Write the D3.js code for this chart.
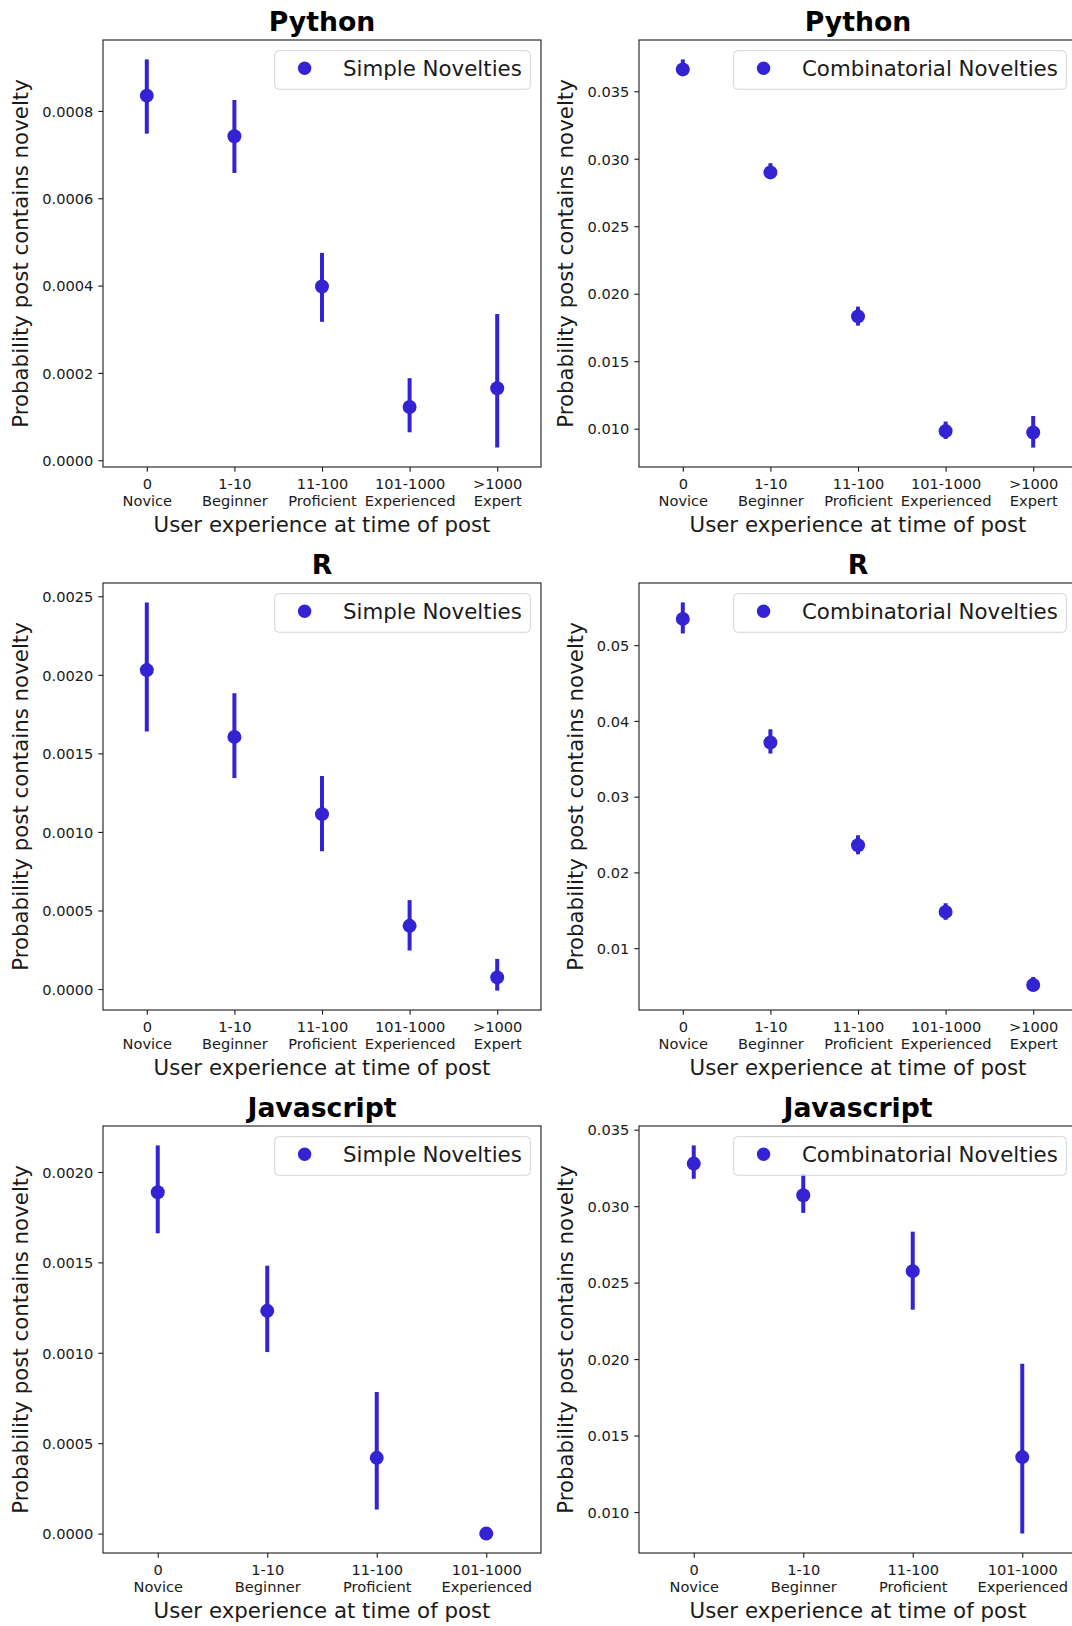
<!DOCTYPE html>
<html>
<head>
<meta charset="utf-8">
<script src="https://cdn.jsdelivr.net/npm/d3@7"></script>
<style>
  body { margin: 0; background: #fff; }
  svg { display: block; font-family: "DejaVu Sans", sans-serif; }
</style>
</head>
<body>
<svg id="chart" width="1072" height="1626"></svg>
<script>
// experience bins, two-line tick labels
const binRanges = ["0", "1-10", "11-100", "101-1000", ">1000"];
const binNames = ["Novice", "Beginner", "Proficient", "Experienced", "Expert"];

const languages = ["Python", "R", "Javascript"];
const seriesNames = ["Simple Novelties", "Combinatorial Novelties"];

// point estimates + CI ends
const pySimpleMean = [0.000835, 0.000742, 0.000398, 0.000122, 0.000165];
const pySimpleLow  = [0.000748, 0.000658, 0.000317, 0.000064, 0.000029];
const pySimpleHigh = [0.000918, 0.000825, 0.000475, 0.000188, 0.000335];

const pyCombMean = [0.03662, 0.02899, 0.01832, 0.00982, 0.00972];
const pyCombLow  = [0.03616, 0.02853, 0.01764, 0.00924, 0.00860];
const pyCombHigh = [0.03736, 0.02967, 0.01904, 0.01053, 0.01094];

const rSimpleMean = [0.002030, 0.001605, 0.001113, 0.000402, 0.000074];
const rSimpleLow  = [0.001640, 0.001343, 0.000877, 0.000245, -0.000010];
const rSimpleHigh = [0.002461, 0.001883, 0.001356, 0.000566, 0.000192];

const rCombMean = [0.05346, 0.03715, 0.02358, 0.01479, 0.00514];
const rCombLow  = [0.05154, 0.03569, 0.02239, 0.01374, 0.00440];
const rCombHigh = [0.05564, 0.03889, 0.02490, 0.01593, 0.00620];

const jsSimpleMean = [0.001888, 0.001232, 0.000419, 0.0];
const jsSimpleLow  = [0.001661, 0.001004, 0.000133, 0.0];
const jsSimpleHigh = [0.002147, 0.001482, 0.000783, 0.0];

const jsCombMean = [0.03278, 0.03071, 0.02575, 0.01359];
const jsCombLow  = [0.03179, 0.02956, 0.02323, 0.00859];
const jsCombHigh = [0.03397, 0.03211, 0.02833, 0.01970];

const panels = [
  {title: languages[0], name: seriesNames[0], mean: pySimpleMean, lo: pySimpleLow, hi: pySimpleHigh},
  {title: languages[0], name: seriesNames[1], mean: pyCombMean, lo: pyCombLow, hi: pyCombHigh},
  {title: languages[1], name: seriesNames[0], mean: rSimpleMean, lo: rSimpleLow, hi: rSimpleHigh},
  {title: languages[1], name: seriesNames[1], mean: rCombMean, lo: rCombLow, hi: rCombHigh},
  {title: languages[2], name: seriesNames[0], mean: jsSimpleMean, lo: jsSimpleLow, hi: jsSimpleHigh},
  {title: languages[2], name: seriesNames[1], mean: jsCombMean, lo: jsCombLow, hi: jsCombHigh}
];

const W = 438, H = 427;
const colX = [103, 639];
const rowY = [40, 583, 1126];
const blue = "#3323d3";
const ink = "#1a1a1a";

const svg = d3.select("#chart");

panels.forEach((p, i) => {
  const g = svg.append("g")
      .attr("transform", `translate(${colX[i % 2]},${rowY[Math.floor(i / 2)]})`);
  const n = p.mean.length;

  const x = d3.scaleLinear().domain([-0.5, n - 0.5]).range([0, W]);
  const lo = d3.min(p.lo), hi = d3.max(p.hi), pad = (hi - lo) * 0.05;
  const y = d3.scaleLinear().domain([lo - pad, hi + pad]).range([H, 0]);
  const ticks = y.ticks(5);
  const fmt = d3.format("." + d3.precisionFixed(ticks[1] - ticks[0]) + "f");

  // y axis
  const yAxis = g.append("g")
      .call(d3.axisLeft(y).tickValues(ticks).tickFormat(fmt).tickSize(4.7).tickSizeOuter(0).tickPadding(5))
      .attr("font-size", 14.6)
      .attr("font-family", null);
  yAxis.select(".domain").remove();
  yAxis.selectAll(".tick line").attr("stroke", ink).attr("stroke-width", 1.1);
  yAxis.selectAll(".tick text").attr("fill", ink).attr("dy", "0.36em");

  // x axis with two-line labels
  const xAxis = g.append("g")
      .attr("transform", `translate(0,${H})`)
      .call(d3.axisBottom(x).tickValues(d3.range(n)).tickFormat("").tickSize(4.7).tickSizeOuter(0))
      .attr("font-size", 14.6)
      .attr("font-family", null);
  xAxis.select(".domain").remove();
  xAxis.selectAll(".tick line").attr("stroke", ink).attr("stroke-width", 1.1);
  xAxis.selectAll(".tick text").remove();
  const lbl = xAxis.selectAll(".tick").append("text")
      .attr("fill", ink)
      .attr("text-anchor", "middle");
  lbl.append("tspan").attr("x", 0).attr("y", 21.7).text(d => binRanges[d]);
  lbl.append("tspan").attr("x", 0).attr("y", 39).text(d => binNames[d]);

  // frame
  g.append("rect")
      .attr("width", W).attr("height", H)
      .attr("fill", "none")
      .attr("stroke", ink)
      .attr("stroke-width", 1.1);

  // CI bars and points
  g.append("g").selectAll("line")
    .data(d3.range(n))
    .join("line")
      .attr("x1", d => x(d)).attr("x2", d => x(d))
      .attr("y1", d => y(p.lo[d])).attr("y2", d => y(p.hi[d]))
      .attr("stroke", blue)
      .attr("stroke-width", 4);

  g.append("g").selectAll("circle")
    .data(d3.range(n))
    .join("circle")
      .attr("cx", d => x(d))
      .attr("cy", d => y(p.mean[d]))
      .attr("r", 7)
      .attr("fill", blue);

  // title + axis labels
  g.append("text")
      .attr("x", W / 2).attr("y", -9.5)
      .attr("text-anchor", "middle")
      .attr("font-size", 26.67)
      .attr("font-weight", "bold")
      .text(p.title);

  g.append("text")
      .attr("x", W / 2).attr("y", H + 65)
      .attr("text-anchor", "middle")
      .attr("font-size", 21.33)
      .attr("fill", ink)
      .text("User experience at time of post");

  const maxW = d3.max(yAxis.selectAll(".tick text").nodes(), t => t.getComputedTextLength());
  g.append("text")
      .attr("transform", `translate(${-(24 + maxW)},${H / 2}) rotate(-90)`)
      .attr("text-anchor", "middle")
      .attr("font-size", 21.33)
      .attr("fill", ink)
      .text("Probability post contains novelty");

  // legend, upper right
  const leg = g.append("g");
  const box = leg.append("rect");
  const txt = leg.append("text")
      .attr("font-size", 21.33)
      .attr("fill", ink)
      .text(p.name);
  const bw = txt.node().getComputedTextLength() + 76.8, bh = 38.6;
  leg.attr("transform", `translate(${W - 10.67 - bw},10.67)`);
  box.attr("width", bw).attr("height", bh)
      .attr("rx", 4)
      .attr("fill", "#fff").attr("fill-opacity", 0.8)
      .attr("stroke", "#d5d5d5").attr("stroke-width", 1);
  txt.attr("x", 68.3).attr("y", 25);
  leg.insert("circle", "text")
      .attr("cx", 29.9).attr("cy", 17.6)
      .attr("r", 6.7)
      .attr("fill", blue);
});
</script>
</body>
</html>
